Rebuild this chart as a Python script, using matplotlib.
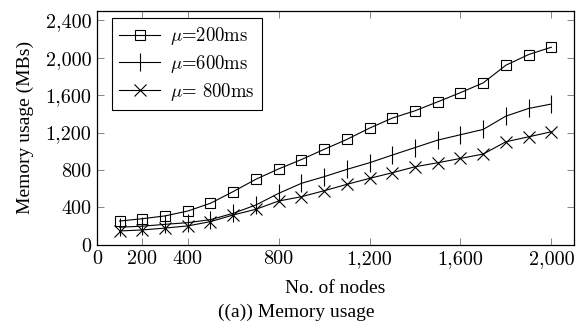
import matplotlib.pyplot as plt
from matplotlib.ticker import FuncFormatter

plt.rcParams['mathtext.fontset'] = 'cm'

nodes = [100, 200, 300, 400, 500, 600, 700, 800, 900, 1000,
         1100, 1200, 1300, 1400, 1500, 1600, 1700, 1800, 1900, 2000]
mem_200 = [255, 280, 310, 362, 445, 570, 702, 812, 912, 1021,
           1127, 1248, 1355, 1433, 1529, 1627, 1731, 1920, 2034, 2112]
mem_600 = [189, 200, 220, 238, 270, 338, 427, 551, 658, 729,
           807, 878, 960, 1040, 1120, 1177, 1234, 1376, 1458, 1505]
mem_800 = [149, 160, 180, 203, 249, 320, 381, 469, 515, 579,
           647, 711, 771, 835, 878, 924, 971, 1102, 1155, 1209]
labels = [r'$\mu$=200ms', r'$\mu$=600ms', r'$\mu$= 800ms']
xticks = [0, 200, 400, 800, 1200, 1600, 2000]
yticks = [0, 400, 800, 1200, 1600, 2000, 2400]

fig = plt.figure(figsize=(5.87, 3.21), dpi=100)
ax = fig.add_axes([0.165, 0.237, 0.813, 0.729])

ax.plot(nodes, mem_200, color='black', lw=0.8, marker='s', ms=7,
        mfc='none', mew=0.8, label=labels[0])
ax.plot(nodes, mem_600, color='black', lw=0.8, marker='|', ms=12.5,
        mew=0.8, label=labels[1])
ax.plot(nodes, mem_800, color='black', lw=0.8, marker='x', ms=9,
        mew=0.8, label=labels[2])

ax.set_xlim(0, 2100)
ax.set_ylim(0, 2500)
ax.set_xticks(xticks)
ax.set_yticks(yticks)
fmt = FuncFormatter(lambda v, p: f'{v:,.0f}')
ax.xaxis.set_major_formatter(fmt)
ax.yaxis.set_major_formatter(fmt)
ax.tick_params(direction='in', length=5, width=0.6, color='0.45',
               top=True, right=True, labelsize=14.5, pad=4)
for lab in ax.get_xticklabels() + ax.get_yticklabels():
    lab.set_fontfamily('cmr10')
for s in ax.spines.values():
    s.set_linewidth(0.9)

ax.set_xlabel('No. of nodes', fontfamily='Liberation Serif', fontsize=14, labelpad=8)
ax.set_ylabel('Memory usage (MBs)', fontfamily='Liberation Serif', fontsize=14, labelpad=8)

leg = ax.legend(loc='upper left', bbox_to_anchor=(0.031, 0.97), borderaxespad=0,
                prop={'family': 'cmr10', 'size': 13.5}, fancybox=False,
                edgecolor='black', framealpha=1, handlelength=2.2,
                labelspacing=0.3, borderpad=0.4, handletextpad=0.5)
leg.get_frame().set_linewidth(0.8)

# caption is centred on the whole figure, not the axes
fig.text(0.505, 0.012, '((a)) Memory usage', ha='center', va='baseline',
         fontfamily='Liberation Serif', fontsize=14)

fig.savefig('out.png', dpi=100)
